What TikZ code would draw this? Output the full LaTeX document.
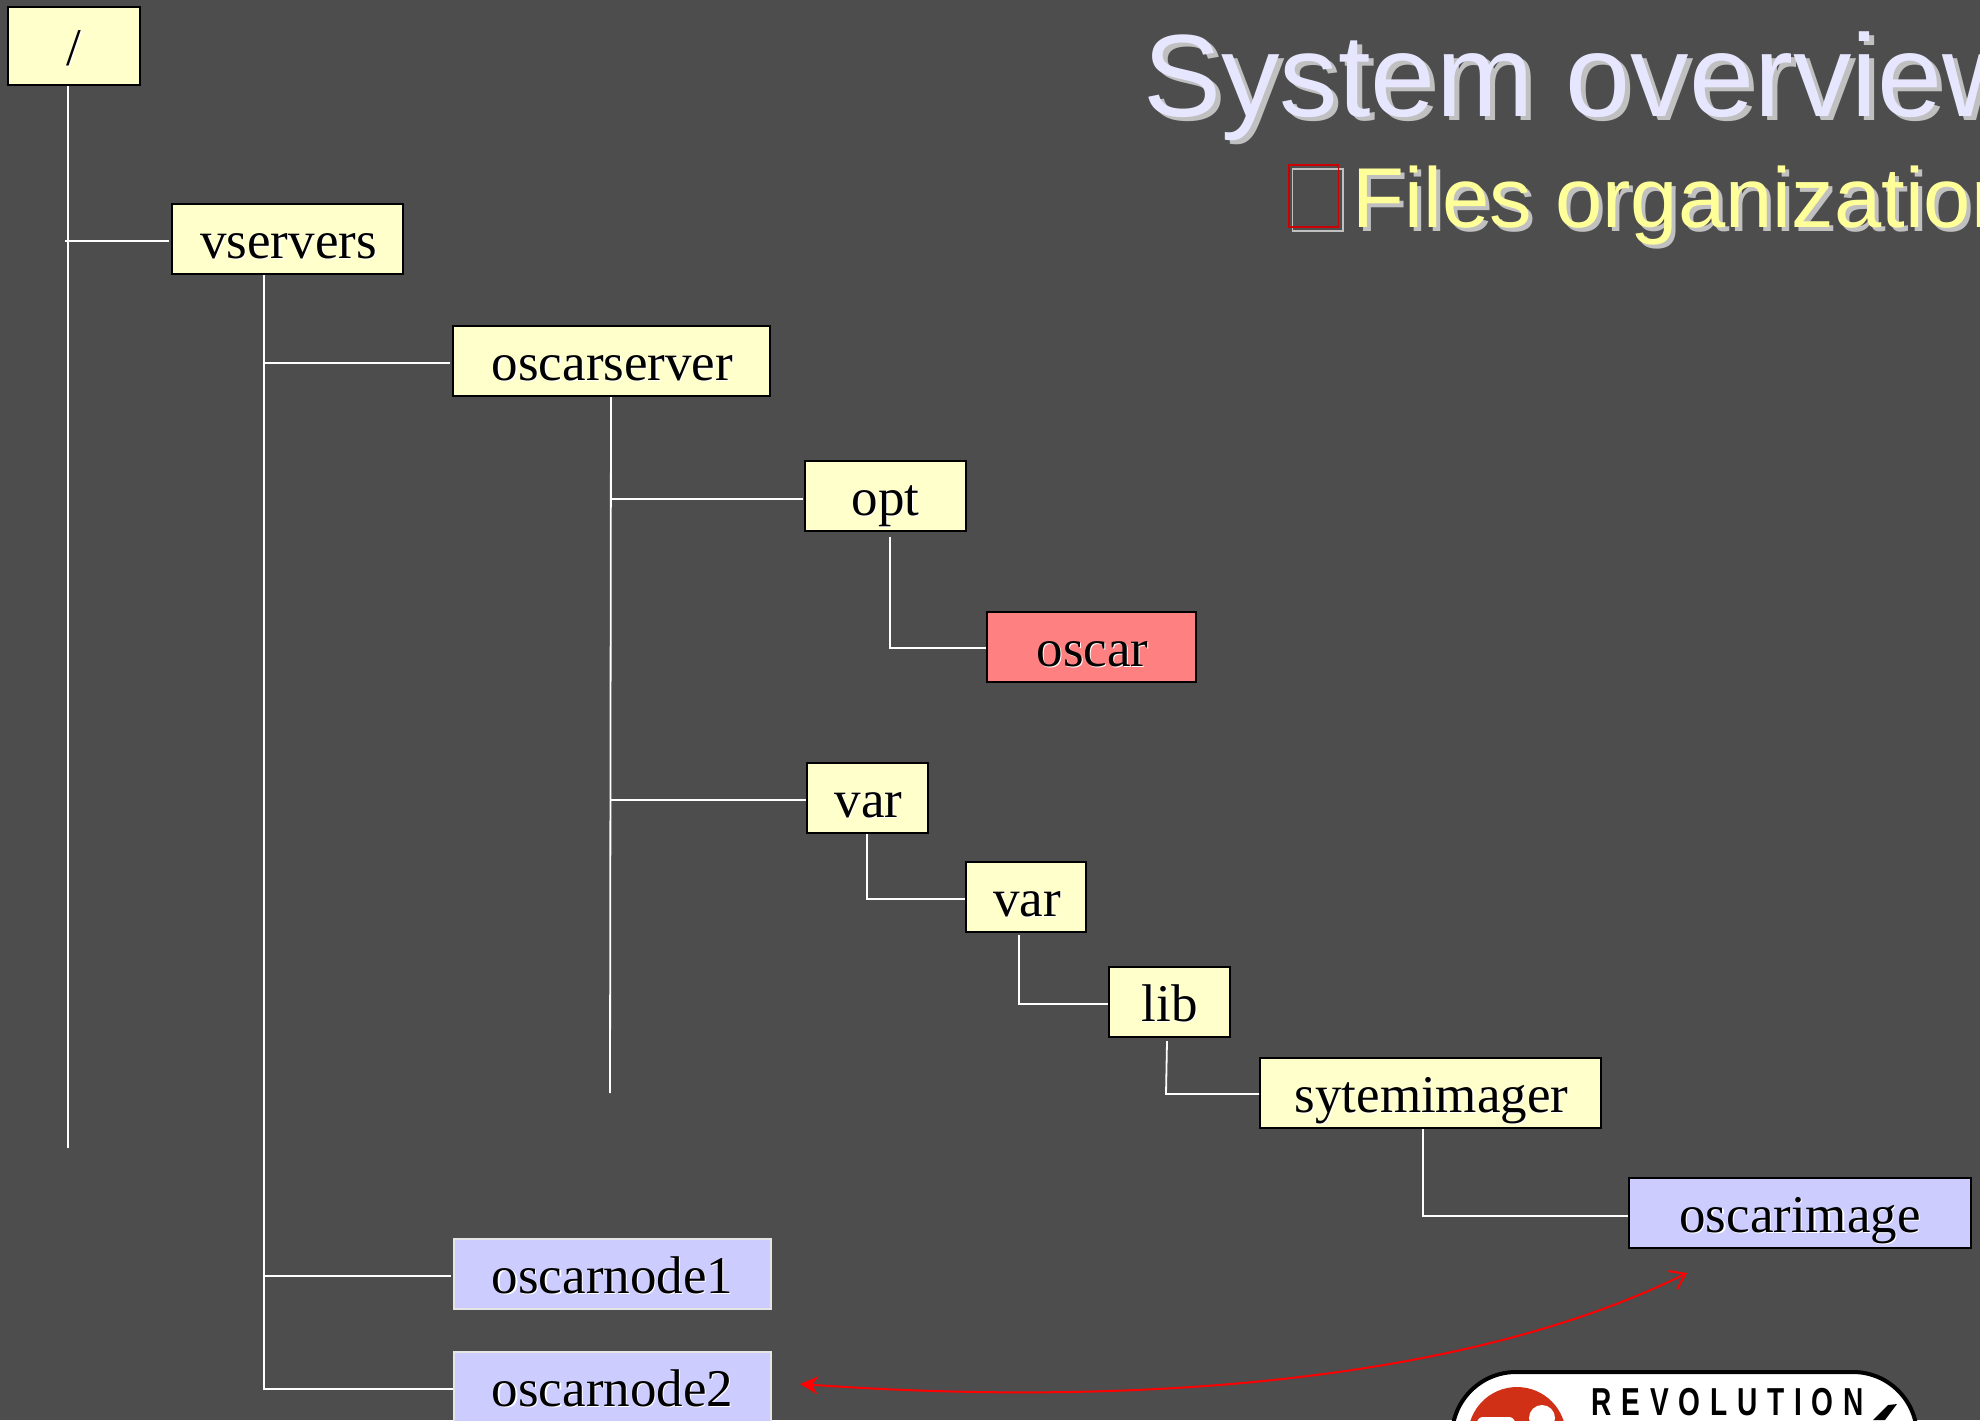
\documentclass[tikz,border=0pt]{standalone}
\usepackage{fontspec}
\setmainfont{Liberation Serif}
\newfontfamily\headfont{Liberation Sans}
\usetikzlibrary{arrows.meta}
\definecolor{bgc}{HTML}{4D4D4D}
\definecolor{yel}{HTML}{FFFFCC}
\definecolor{pnk}{HTML}{FF8080}
\definecolor{blu}{HTML}{CCCCFF}
\definecolor{ttl}{HTML}{E6E6FF}
\definecolor{sub}{HTML}{FFFF99}
\definecolor{shd}{HTML}{C0C0C0}
\definecolor{logored}{HTML}{D03015}
\newcommand{\shtxt}[1]{\makebox[0pt][l]{\hspace{.6pt}\raisebox{-.6pt}{\textcolor{white}{#1}}}#1}
\tikzset{
  treebox/.style={draw=black,line width=1pt,inner sep=0pt,text=black,font=\fontsize{26.5}{30}\selectfont,text height=27.3pt,text depth=7.7pt,minimum height=35pt},
  yelbox/.style={treebox,fill=yel},
  pnkbox/.style={treebox,fill=pnk},
  blubox/.style={treebox,fill=blu},
  whtbox/.style={treebox,fill=blu,draw=white!90!black},
  conn/.style={draw=white,line width=.9pt},
  redarrow/.style={draw=red,line width=1pt}
}
\begin{document}
\begin{tikzpicture}[x=.5pt,y=-.5pt]
\useasboundingbox (0,0) rectangle (1980,1420);
\clip (0,0) rectangle (1980,1420);
\fill[bgc] (0,0) rectangle (1980,1420);
% heading
\node[anchor=base west,inner sep=0pt,text=shd,font=\headfont\fontsize{58.5}{60}\selectfont] (titleshadow) at (1148,120) {System overview};
\node[anchor=base west,inner sep=0pt,text=ttl,font=\headfont\fontsize{58.5}{60}\selectfont] (title) at (1143,116) {System overview};
\draw[shd,line width=.7pt] (1292.5,169) rectangle (1343,231);
\draw[red!80!black,line width=.7pt] (1289,165) rectangle (1338.5,227);
\node[anchor=base west,inner sep=0pt,text=shd,font=\headfont\fontsize{42.5}{44}\selectfont] (subshadow) at (1356,231) {Files organization};
\node[anchor=base west,inner sep=0pt,text=sub,font=\headfont\fontsize{42.5}{44}\selectfont] (subtitle) at (1352,227) {Files organization};
% boxes
\node[yelbox,minimum width=66pt,minimum height=39pt] (root) at (74,46) {\shtxt{/}};
\node[yelbox,minimum width=115.5pt] (vservers) at (287.5,239) {\hspace{1pt}\shtxt{vservers}};
\node[yelbox,minimum width=158.5pt] (oscarserver) at (611.5,361) {\hspace{1pt}\shtxt{oscarserver}};
\node[yelbox,minimum width=80.5pt] (opt) at (885.5,496) {\shtxt{opt}};
\node[pnkbox,minimum width=104.5pt] (oscar) at (1091.5,646.5) {\hspace{1pt}\shtxt{oscar}};
\node[yelbox,minimum width=60.5pt] (varA) at (867.5,798) {\hspace{1pt}\shtxt{var}};
\node[yelbox,minimum width=60pt] (varB) at (1026,896.5) {\hspace{1pt}\shtxt{var}};
\node[yelbox,minimum width=60.5pt] (lib) at (1169.5,1002) {\shtxt{lib}};
\node[yelbox,minimum width=170.5pt] (syte) at (1430.5,1092.5) {\hspace{1pt}\shtxt{sytemimager}};
\node[blubox,minimum width=171pt] (oscarimage) at (1800,1213) {\shtxt{oscarimage}};
\node[whtbox,minimum width=158.5pt] (nodeA) at (612,1273.5) {\hspace{.5pt}\shtxt{oscarnode1}};
\node[whtbox,minimum width=158.5pt] (nodeB) at (612,1386.5) {\hspace{.5pt}\shtxt{oscarnode2}};
% connector helpers
\coordinate (rootEnd) at (68,1148);
\coordinate (rootTap) at (65,241);
\coordinate (vsEnd) at (264,1389);
\coordinate (vsTapA) at (265,363);
\coordinate (vsTapB) at (265,1276);
\coordinate (osEnd) at (610,1093);
\coordinate (osTapA) at (611,499);
\coordinate (osTapB) at (611,800);
\coordinate (optTop) at (890,537);
\coordinate (optBend) at (890,648);
\coordinate (varATop) at (867,833);
\coordinate (varABend) at (867,899);
\coordinate (varBTop) at (1019,935);
\coordinate (varBBend) at (1019,1004);
\coordinate (libTop) at (1167,1041);
\coordinate (libBend) at (1166,1094);
\coordinate (syteTop) at (1423,1128);
\coordinate (syteBend) at (1423,1216);
% connectors
\draw[conn] (root.south -| rootEnd) -- (rootEnd);
\draw[conn,shorten >=1pt] (rootTap) -- (rootTap -| vservers.west);
\draw[conn] (vservers.south -| vsEnd) -- (vsEnd) -- (vsEnd -| nodeB.west);
\draw[conn,shorten >=1pt] (vsTapA) -- (vsTapA -| oscarserver.west);
\draw[conn,shorten >=1pt] (vsTapB) -- (vsTapB -| nodeA.west);
\draw[conn] (oscarserver.south -| osTapA) -- (osEnd);
\draw[conn,shorten >=.5pt] (osTapA) -- (osTapA -| opt.west);
\draw[conn] (osTapB) -- (osTapB -| varA.west);
\draw[conn] (optTop) -- (optBend) -- (optBend -| oscar.west);
\draw[conn] (varA.south -| varATop) -- (varABend) -- (varABend -| varB.west);
\draw[conn] (varBTop) -- (varBBend) -- (varBBend -| lib.west);
\draw[conn] (libTop) -- (libBend) -- (libBend -| syte.west);
\draw[conn] (syte.south -| syteTop) -- (syteBend) -- (syteBend -| oscarimage.west);
% red link
\coordinate (arrowL) at (800,1384);
\coordinate (arrowR) at (1687,1273);
\draw[redarrow,{Stealth[length=9pt,width=9pt]}-{Straight Barb[length=7pt,width=10pt]}] (arrowL) .. controls (1100,1405) and (1450,1390) .. (arrowR);
% logo
\fill[white,draw=black,line width=2pt,rounded corners=32pt] (1452,1372) rectangle (1917,1520);
\fill[logored] (1517,1436) circle[radius=49];
\fill[white] (1542,1418) circle[radius=13];
\fill[white,rounded corners=3pt] (1477,1417) rectangle (1515,1440);
\fill[black] (1873,1420) -- (1888,1405) -- (1897,1404) -- (1885,1420) -- cycle;
\node[anchor=base west,inner sep=0pt,text=black,font=\headfont\bfseries\fontsize{19.5}{20}\selectfont] (logotext) at (1591,1415) {\scalebox{.72}[1]{\addfontfeature{LetterSpace=35}REVOLUTION}};
\end{tikzpicture}
\end{document}
